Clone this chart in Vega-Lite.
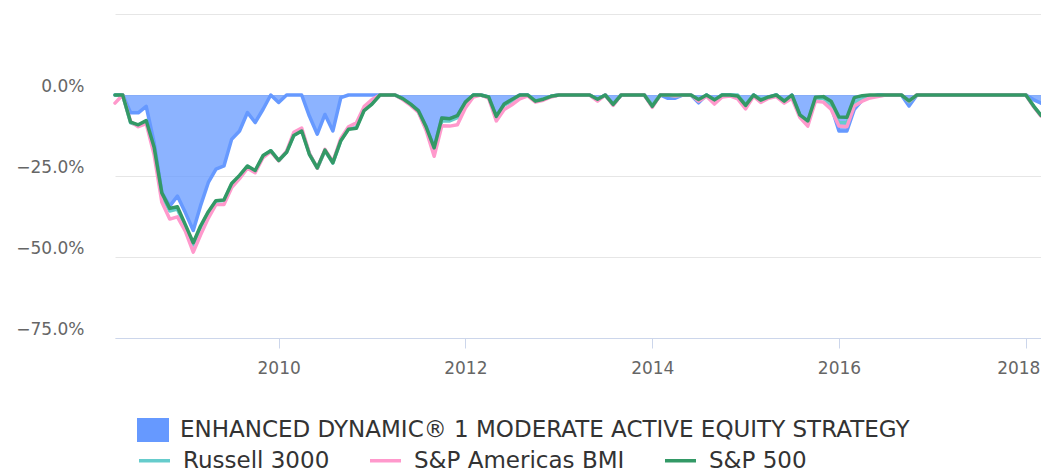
{
  "$schema": "https://vega.github.io/schema/vega-lite/v6.json",
  "autosize": {"type": "none"},
  "width": 926,
  "height": 324,
  "padding": {"left": 115, "top": 14, "right": 0, "bottom": 136},
  "config": {"view": {"stroke": null}, "font": "DejaVu Sans"},
  "datasets": {
    "d": [
      {"date":"2008-04-01","strategy":0,"r3000":0,"bmi":-2.5,"sp500":0},
      {"date":"2008-05-01","strategy":0,"r3000":0,"bmi":0,"sp500":0},
      {"date":"2008-06-01","strategy":-5.5,"r3000":-8.6,"bmi":-8.2,"sp500":-8.4},
      {"date":"2008-07-01","strategy":-5.5,"r3000":-9.4,"bmi":-9.8,"sp500":-9.2},
      {"date":"2008-08-01","strategy":-3.5,"r3000":-8.2,"bmi":-8.8,"sp500":-7.9},
      {"date":"2008-09-01","strategy":-14.7,"r3000":-16.6,"bmi":-18.5,"sp500":-16.1},
      {"date":"2008-10-01","strategy":-30.1,"r3000":-31.2,"bmi":-33.0,"sp500":-30.2},
      {"date":"2008-11-01","strategy":-34.3,"r3000":-35.8,"bmi":-38.3,"sp500":-35.0},
      {"date":"2008-12-01","strategy":-31.2,"r3000":-35.2,"bmi":-37.6,"sp500":-34.5},
      {"date":"2009-01-01","strategy":-36.3,"r3000":-40.8,"bmi":-42.0,"sp500":-40.0},
      {"date":"2009-02-01","strategy":-41.8,"r3000":-46.3,"bmi":-48.5,"sp500":-45.6},
      {"date":"2009-03-01","strategy":-34.3,"r3000":-41.0,"bmi":-43.3,"sp500":-40.5},
      {"date":"2009-04-01","strategy":-27.0,"r3000":-36.3,"bmi":-38.0,"sp500":-36.0},
      {"date":"2009-05-01","strategy":-22.9,"r3000":-32.8,"bmi":-33.8,"sp500":-32.6},
      {"date":"2009-06-01","strategy":-21.9,"r3000":-32.6,"bmi":-33.8,"sp500":-32.4},
      {"date":"2009-07-01","strategy":-13.7,"r3000":-27.6,"bmi":-28.6,"sp500":-27.3},
      {"date":"2009-08-01","strategy":-11.1,"r3000":-25.0,"bmi":-25.8,"sp500":-24.8},
      {"date":"2009-09-01","strategy":-5.4,"r3000":-22.0,"bmi":-22.6,"sp500":-21.9},
      {"date":"2009-10-01","strategy":-8.5,"r3000":-23.6,"bmi":-24.0,"sp500":-23.3},
      {"date":"2009-11-01","strategy":-4.4,"r3000":-18.9,"bmi":-19.3,"sp500":-18.7},
      {"date":"2009-12-01","strategy":0,"r3000":-17.2,"bmi":-17.5,"sp500":-17.2},
      {"date":"2010-01-01","strategy":-2.3,"r3000":-20.2,"bmi":-20.3,"sp500":-20.2},
      {"date":"2010-02-01","strategy":0,"r3000":-17.6,"bmi":-17.3,"sp500":-17.7},
      {"date":"2010-03-01","strategy":0,"r3000":-12.4,"bmi":-11.5,"sp500":-12.5},
      {"date":"2010-04-01","strategy":0,"r3000":-10.8,"bmi":-10.2,"sp500":-11.1},
      {"date":"2010-05-01","strategy":-6.5,"r3000":-18.1,"bmi":-18.0,"sp500":-18.3},
      {"date":"2010-06-01","strategy":-12.1,"r3000":-22.6,"bmi":-22.6,"sp500":-22.5},
      {"date":"2010-07-01","strategy":-6.0,"r3000":-17.2,"bmi":-16.8,"sp500":-17.0},
      {"date":"2010-08-01","strategy":-11.1,"r3000":-21.0,"bmi":-20.6,"sp500":-20.9},
      {"date":"2010-09-01","strategy":-0.8,"r3000":-14.0,"bmi":-13.4,"sp500":-14.1},
      {"date":"2010-10-01","strategy":0,"r3000":-10.4,"bmi":-9.8,"sp500":-10.6},
      {"date":"2010-11-01","strategy":0,"r3000":-10.0,"bmi":-8.6,"sp500":-10.3},
      {"date":"2010-12-01","strategy":0,"r3000":-4.6,"bmi":-3.6,"sp500":-4.8},
      {"date":"2011-01-01","strategy":0,"r3000":-2.6,"bmi":-1.4,"sp500":-2.8},
      {"date":"2011-02-01","strategy":0,"r3000":0,"bmi":0,"sp500":0},
      {"date":"2011-03-01","strategy":0,"r3000":0,"bmi":0,"sp500":0},
      {"date":"2011-04-01","strategy":0,"r3000":0,"bmi":0,"sp500":0},
      {"date":"2011-05-01","strategy":-1.1,"r3000":-1.2,"bmi":-1.4,"sp500":-1.1},
      {"date":"2011-06-01","strategy":-2.8,"r3000":-2.9,"bmi":-3.2,"sp500":-2.8},
      {"date":"2011-07-01","strategy":-4.8,"r3000":-5.1,"bmi":-5.3,"sp500":-4.8},
      {"date":"2011-08-01","strategy":-9.9,"r3000":-10.5,"bmi":-11.0,"sp500":-9.9},
      {"date":"2011-09-01","strategy":-16.3,"r3000":-17.0,"bmi":-18.9,"sp500":-16.3},
      {"date":"2011-10-01","strategy":-7.1,"r3000":-8.0,"bmi":-9.5,"sp500":-7.1},
      {"date":"2011-11-01","strategy":-7.3,"r3000":-8.0,"bmi":-9.6,"sp500":-7.3},
      {"date":"2011-12-01","strategy":-6.4,"r3000":-7.0,"bmi":-9.2,"sp500":-6.4},
      {"date":"2012-01-01","strategy":-2.2,"r3000":-2.6,"bmi":-4.0,"sp500":-2.2},
      {"date":"2012-02-01","strategy":0,"r3000":0,"bmi":-0.6,"sp500":0},
      {"date":"2012-03-01","strategy":0,"r3000":0,"bmi":0,"sp500":0},
      {"date":"2012-04-01","strategy":-0.6,"r3000":-0.7,"bmi":-1.0,"sp500":-0.6},
      {"date":"2012-05-01","strategy":-6.6,"r3000":-6.9,"bmi":-8.0,"sp500":-6.6},
      {"date":"2012-06-01","strategy":-2.8,"r3000":-3.1,"bmi":-4.5,"sp500":-2.8},
      {"date":"2012-07-01","strategy":-1.4,"r3000":-2.0,"bmi":-3.0,"sp500":-1.4},
      {"date":"2012-08-01","strategy":0,"r3000":-0.3,"bmi":-1.2,"sp500":0},
      {"date":"2012-09-01","strategy":0,"r3000":0,"bmi":-0.3,"sp500":0},
      {"date":"2012-10-01","strategy":-1.9,"r3000":-1.8,"bmi":-2.2,"sp500":-1.9},
      {"date":"2012-11-01","strategy":-1.3,"r3000":-1.2,"bmi":-1.6,"sp500":-1.3},
      {"date":"2012-12-01","strategy":-0.4,"r3000":-0.4,"bmi":-0.6,"sp500":-0.4},
      {"date":"2013-01-01","strategy":0,"r3000":0,"bmi":0,"sp500":0},
      {"date":"2013-02-01","strategy":0,"r3000":0,"bmi":0,"sp500":0},
      {"date":"2013-03-01","strategy":0,"r3000":0,"bmi":0,"sp500":0},
      {"date":"2013-04-01","strategy":0,"r3000":0,"bmi":0,"sp500":0},
      {"date":"2013-05-01","strategy":0,"r3000":0,"bmi":0,"sp500":0},
      {"date":"2013-06-01","strategy":-1.5,"r3000":-1.4,"bmi":-1.9,"sp500":-1.3},
      {"date":"2013-07-01","strategy":0,"r3000":0,"bmi":0,"sp500":0},
      {"date":"2013-08-01","strategy":-2.9,"r3000":-3.0,"bmi":-3.2,"sp500":-2.9},
      {"date":"2013-09-01","strategy":0,"r3000":0,"bmi":0,"sp500":0},
      {"date":"2013-10-01","strategy":0,"r3000":0,"bmi":0,"sp500":0},
      {"date":"2013-11-01","strategy":0,"r3000":0,"bmi":0,"sp500":0},
      {"date":"2013-12-01","strategy":0,"r3000":0,"bmi":0,"sp500":0},
      {"date":"2014-01-01","strategy":-3.5,"r3000":-3.2,"bmi":-3.8,"sp500":-3.5},
      {"date":"2014-02-01","strategy":0,"r3000":0,"bmi":0,"sp500":0},
      {"date":"2014-03-01","strategy":-1.0,"r3000":0,"bmi":0,"sp500":0},
      {"date":"2014-04-01","strategy":-1.0,"r3000":-0.4,"bmi":-0.3,"sp500":0},
      {"date":"2014-05-01","strategy":0,"r3000":0,"bmi":0,"sp500":0},
      {"date":"2014-06-01","strategy":0,"r3000":0,"bmi":0,"sp500":0},
      {"date":"2014-07-01","strategy":-2.4,"r3000":-1.8,"bmi":-1.9,"sp500":-1.4},
      {"date":"2014-08-01","strategy":0,"r3000":0,"bmi":-0.4,"sp500":0},
      {"date":"2014-09-01","strategy":-1.6,"r3000":-1.8,"bmi":-2.8,"sp500":-1.5},
      {"date":"2014-10-01","strategy":0,"r3000":0,"bmi":-0.6,"sp500":0},
      {"date":"2014-11-01","strategy":0,"r3000":0,"bmi":-0.3,"sp500":0},
      {"date":"2014-12-01","strategy":-0.3,"r3000":0,"bmi":-1.2,"sp500":-0.3},
      {"date":"2015-01-01","strategy":-3.2,"r3000":-3.0,"bmi":-4.3,"sp500":-3.2},
      {"date":"2015-02-01","strategy":0,"r3000":0,"bmi":-0.4,"sp500":0},
      {"date":"2015-03-01","strategy":-1.6,"r3000":-1.2,"bmi":-2.3,"sp500":-1.6},
      {"date":"2015-04-01","strategy":-0.6,"r3000":-0.8,"bmi":-1.0,"sp500":-0.6},
      {"date":"2015-05-01","strategy":0,"r3000":0,"bmi":-0.5,"sp500":0},
      {"date":"2015-06-01","strategy":-1.9,"r3000":-1.8,"bmi":-2.5,"sp500":-1.9},
      {"date":"2015-07-01","strategy":0,"r3000":-0.5,"bmi":-1.0,"sp500":0},
      {"date":"2015-08-01","strategy":-6.2,"r3000":-6.4,"bmi":-6.9,"sp500":-6.1},
      {"date":"2015-09-01","strategy":-8.4,"r3000":-8.7,"bmi":-9.6,"sp500":-8.0},
      {"date":"2015-10-01","strategy":-0.9,"r3000":-1.2,"bmi":-1.9,"sp500":-0.7},
      {"date":"2015-11-01","strategy":-0.9,"r3000":-1.0,"bmi":-2.2,"sp500":-0.5},
      {"date":"2015-12-01","strategy":-3.4,"r3000":-3.0,"bmi":-4.4,"sp500":-1.9},
      {"date":"2016-01-01","strategy":-11.1,"r3000":-8.6,"bmi":-9.6,"sp500":-6.8},
      {"date":"2016-02-01","strategy":-11.1,"r3000":-8.6,"bmi":-9.8,"sp500":-6.9},
      {"date":"2016-03-01","strategy":-4.4,"r3000":-2.5,"bmi":-3.4,"sp500":-0.8},
      {"date":"2016-04-01","strategy":-1.6,"r3000":-1.2,"bmi":-1.9,"sp500":-0.2},
      {"date":"2016-05-01","strategy":-0.5,"r3000":-0.4,"bmi":-0.9,"sp500":0},
      {"date":"2016-06-01","strategy":0,"r3000":-0.2,"bmi":-0.5,"sp500":0},
      {"date":"2016-07-01","strategy":0,"r3000":0,"bmi":0,"sp500":0},
      {"date":"2016-08-01","strategy":0,"r3000":0,"bmi":0,"sp500":0},
      {"date":"2016-09-01","strategy":0,"r3000":0,"bmi":0,"sp500":0},
      {"date":"2016-10-01","strategy":-3.4,"r3000":-2.1,"bmi":-1.9,"sp500":-1.8},
      {"date":"2016-11-01","strategy":0,"r3000":0,"bmi":0,"sp500":0},
      {"date":"2016-12-01","strategy":0,"r3000":0,"bmi":0,"sp500":0},
      {"date":"2017-01-01","strategy":0,"r3000":0,"bmi":0,"sp500":0},
      {"date":"2017-02-01","strategy":0,"r3000":0,"bmi":0,"sp500":0},
      {"date":"2017-03-01","strategy":0,"r3000":0,"bmi":0,"sp500":0},
      {"date":"2017-04-01","strategy":0,"r3000":0,"bmi":0,"sp500":0},
      {"date":"2017-05-01","strategy":0,"r3000":0,"bmi":0,"sp500":0},
      {"date":"2017-06-01","strategy":0,"r3000":0,"bmi":0,"sp500":0},
      {"date":"2017-07-01","strategy":0,"r3000":0,"bmi":0,"sp500":0},
      {"date":"2017-08-01","strategy":0,"r3000":0,"bmi":0,"sp500":0},
      {"date":"2017-09-01","strategy":0,"r3000":0,"bmi":0,"sp500":0},
      {"date":"2017-10-01","strategy":0,"r3000":0,"bmi":0,"sp500":0},
      {"date":"2017-11-01","strategy":0,"r3000":0,"bmi":0,"sp500":0},
      {"date":"2017-12-01","strategy":0,"r3000":0,"bmi":0,"sp500":0},
      {"date":"2018-01-01","strategy":0,"r3000":0,"bmi":0,"sp500":0},
      {"date":"2018-02-01","strategy":-1.5,"r3000":-3.6,"bmi":-3.7,"sp500":-3.5},
      {"date":"2018-03-01","strategy":-2.5,"r3000":-6.3,"bmi":-6.5,"sp500":-6.3}
    ]
  },
  "data": {"name": "d"},
  "encoding": {
    "x": {
      "field": "date", "type": "temporal",
      "scale": {"type": "utc", "nice": false},
      "axis": {
        "title": null,
        "values": [{"year": 2010, "utc": true}, {"year": 2012, "utc": true}, {"year": 2014, "utc": true}, {"year": 2016, "utc": true}, {"year": 2018, "utc": true}],
        "format": "%Y",
        "grid": false,
        "domainColor": "#ccd6eb", "domainWidth": 1,
        "tickColor": "#ccd6eb", "tickSize": 10, "tickWidth": 1,
        "labelColor": "#666666", "labelFontSize": 17, "labelPadding": 12,
        "labelFont": "DejaVu Sans",
        "labelFlush": 20, "labelFlushOffset": 14,
        "zindex": 1
      }
    }
  },
  "layer": [
    {
      "mark": {"type": "area", "color": "#6699ff", "opacity": 0.75, "interpolate": "linear"},
      "encoding": {
        "y": {
          "field": "strategy", "type": "quantitative",
          "scale": {"domain": [-75, 25], "nice": false, "zero": false},
          "axis": {
            "title": null,
            "values": [-75, -50, -25, 0, 25],
            "labelExpr": "datum.value > 0 ? '' : format(datum.value, '.1f') + '%'",
            "domain": false, "ticks": false, "tickSize": 0,
            "grid": true, "gridColor": "#e6e6e6", "gridWidth": 1,
            "labelColor": "#666666", "labelFontSize": 17, "labelPadding": 31,
            "labelFont": "DejaVu Sans", "labelOffset": -9
          }
        },
        "y2": {"datum": 0},
        "fill": {
          "datum": "ENHANCED DYNAMIC® 1 MODERATE ACTIVE EQUITY STRATEGY",
          "type": "nominal",
          "scale": {"range": ["#6699ff"]},
          "legend": {
            "title": null, "orient": "none", "legendX": 22, "legendY": 400,
            "padding": 0,
            "symbolType": "M-1,-0.75H1V0.75H-1Z", "symbolSize": 1024,
            "symbolOpacity": 1, "symbolStrokeWidth": 0,
            "labelFont": "DejaVu Sans", "labelFontSize": 23, "labelColor": "#333333",
            "labelOffset": 11, "labelLimit": 1000
          }
        }
      }
    },
    {
      "mark": {"type": "line", "color": "#6699ff", "strokeWidth": 3.5, "strokeJoin": "round", "strokeCap": "round"},
      "encoding": {"y": {"field": "strategy", "type": "quantitative"}}
    },
    {
      "mark": {"type": "line", "strokeWidth": 3.5, "strokeJoin": "round", "strokeCap": "round"},
      "encoding": {
        "y": {"field": "r3000", "type": "quantitative"},
        "stroke": {
          "datum": "Russell 3000", "type": "nominal",
          "scale": {"domain": ["Russell 3000", "S&P Americas BMI", "S&P 500"], "range": ["#66cccc", "#ff99cc", "#339966"]},
          "legend": {
            "title": null, "orient": "none", "legendX": 22, "legendY": 429,
            "direction": "horizontal", "padding": 0, "columnPadding": 33,
            "symbolType": "stroke", "symbolSize": 961, "symbolStrokeWidth": 3.5,
            "labelFont": "DejaVu Sans", "labelFontSize": 23, "labelColor": "#333333",
            "labelOffset": 11, "labelLimit": 1000
          }
        }
      }
    },
    {
      "mark": {"type": "line", "strokeWidth": 3.5, "strokeJoin": "round", "strokeCap": "round"},
      "encoding": {
        "y": {"field": "bmi", "type": "quantitative"},
        "stroke": {"datum": "S&P Americas BMI", "type": "nominal"}
      }
    },
    {
      "mark": {"type": "line", "strokeWidth": 3.5, "strokeJoin": "round", "strokeCap": "round"},
      "encoding": {
        "y": {"field": "sp500", "type": "quantitative"},
        "stroke": {"datum": "S&P 500", "type": "nominal"}
      }
    }
  ]
}
